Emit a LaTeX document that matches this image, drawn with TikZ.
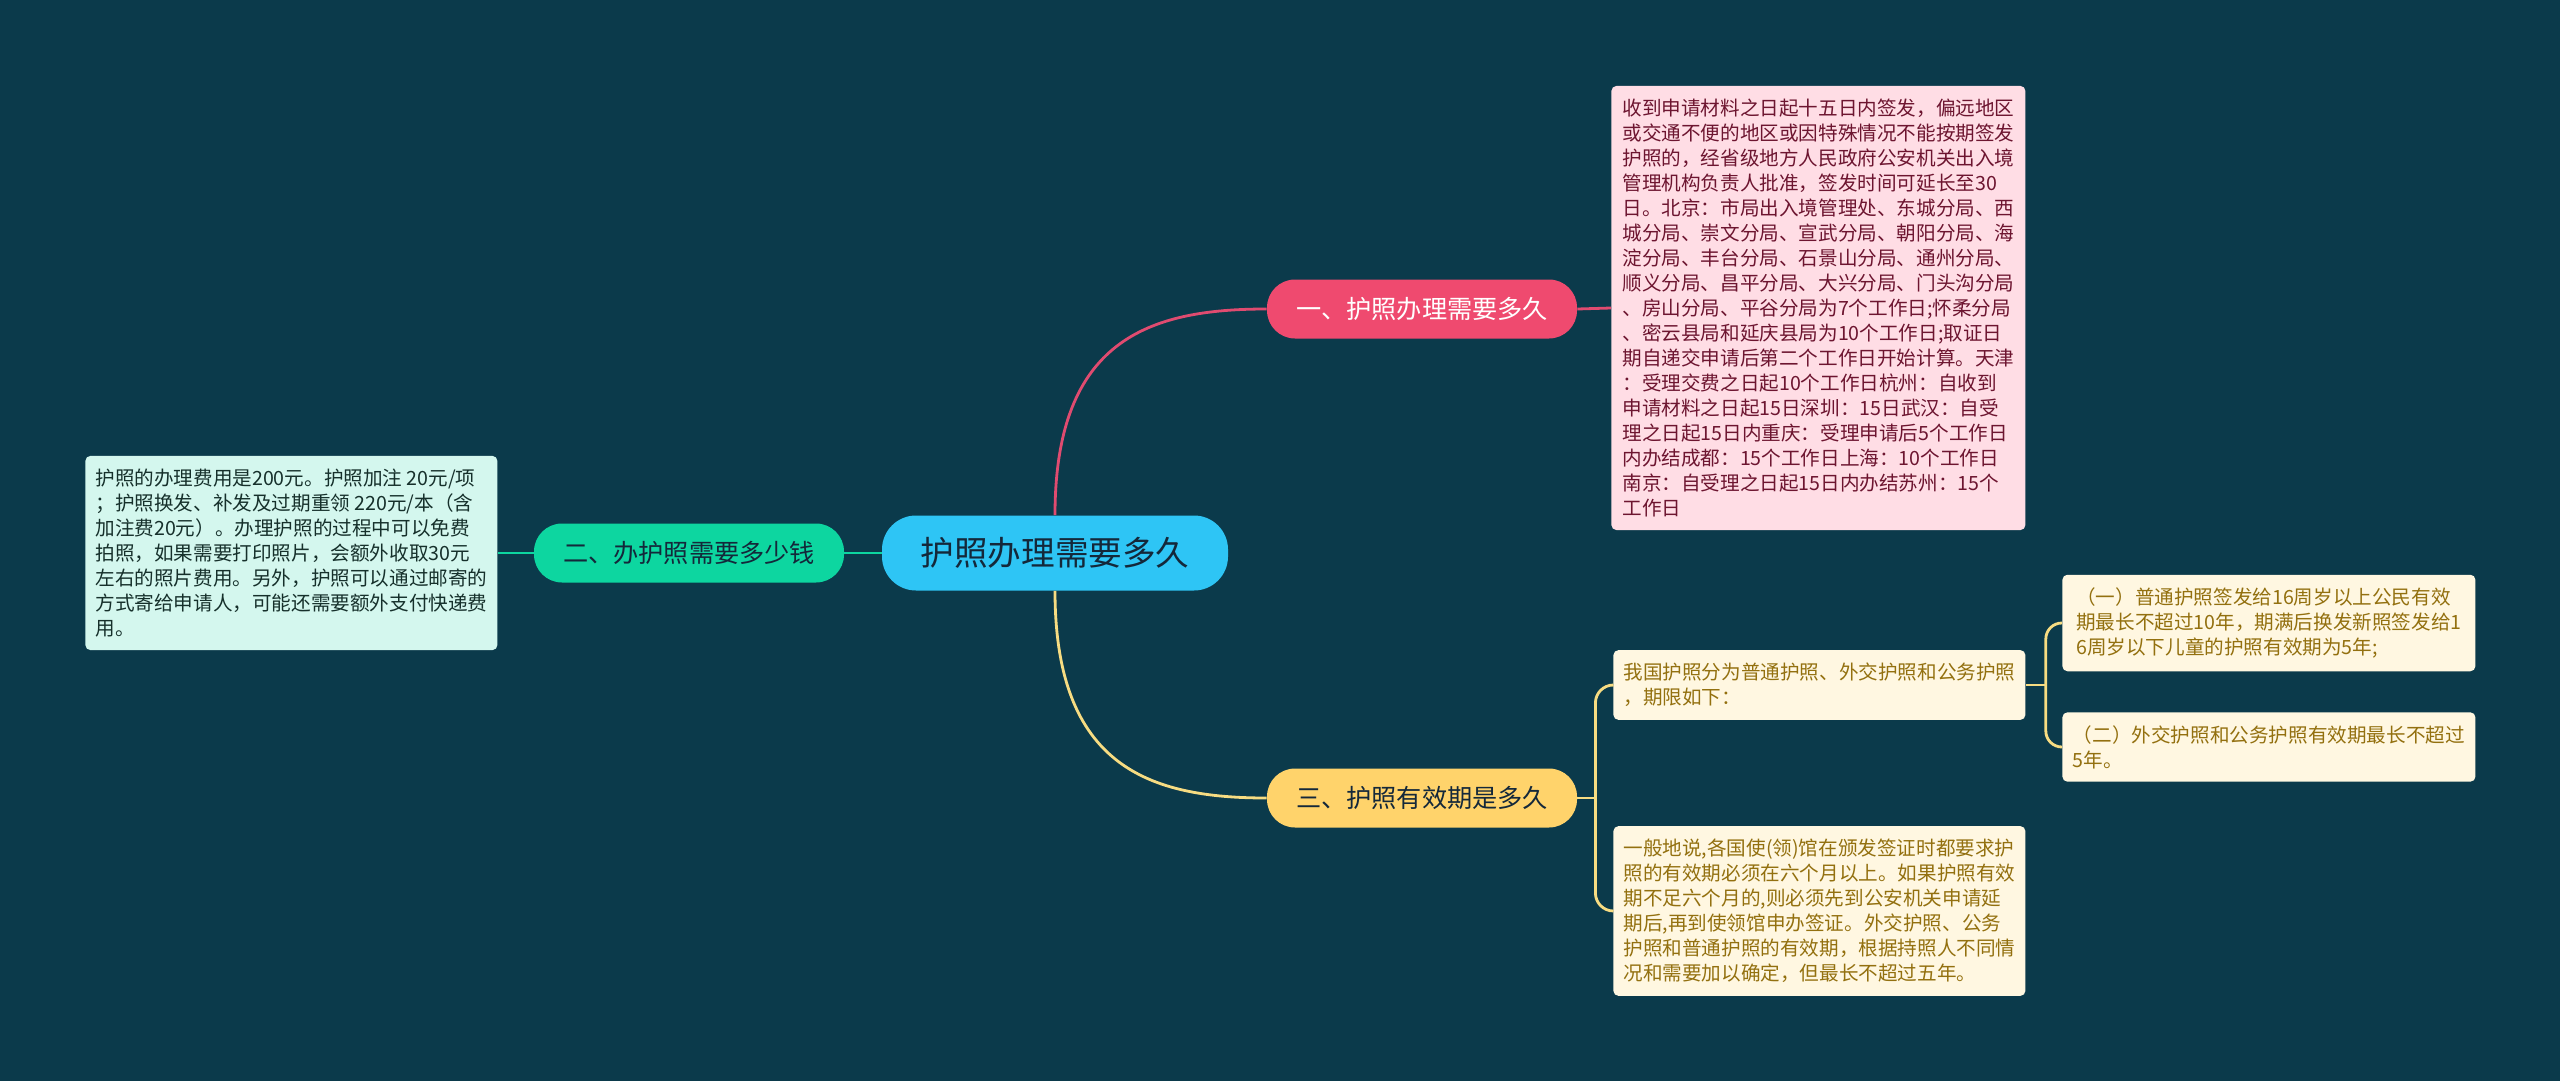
\documentclass[tikz,border=0pt]{standalone}
\usepackage{fontspec}
\setmainfont{Noto Sans CJK SC}
\usetikzlibrary{positioning}

\definecolor{bgcol}{HTML}{0B3A4B}
\definecolor{rootcol}{HTML}{2EC5F5}
\definecolor{darktext}{HTML}{14283A}
\definecolor{pinkcol}{HTML}{EF4A6F}
\definecolor{pinkline}{HTML}{E04B70}
\definecolor{pinknote}{HTML}{FFDDE5}
\definecolor{pinktext}{HTML}{6D1530}
\definecolor{greencol}{HTML}{0DD6A0}
\definecolor{greennote}{HTML}{D4F7EE}
\definecolor{greentext}{HTML}{16302B}
\definecolor{yellowcol}{HTML}{FFD36B}
\definecolor{yellowline}{HTML}{F7DC82}
\definecolor{yellownote}{HTML}{FFF7E1}
\definecolor{yellowtext}{HTML}{93700F}

\begin{document}
\begin{tikzpicture}[
    x=0.5pt, y=-0.5pt,
    root/.style={fill=rootcol, text=darktext, rounded corners=17pt, minimum width=173pt, minimum height=37.5pt, font=\fontsize{16.8}{20}\selectfont},
    topic/.style={rounded corners=14pt, minimum width=155pt, minimum height=29.5pt, font=\fontsize{12.6}{15}\selectfont},
    note/.style={anchor=west, rounded corners=2.5pt, align=left, inner xsep=5pt, inner ysep=6.5pt, font=\fontsize{9.8}{12.5}\selectfont},
    link/.style={line width=1.4pt},
]
\fill[bgcol] (0,0) rectangle (2560,1081);

% main nodes
\node[root] (root) at (1055,553) {护照办理需要多久};
\node[topic, fill=pinkcol, text=white] (b1) at (1422,309) {一、护照办理需要多久};
\node[topic, fill=greencol, text=darktext] (b2) at (689,553) {二、办护照需要多少钱};
\node[topic, fill=yellowcol, text=darktext] (b3) at (1422,798) {三、护照有效期是多久};

% notes
\node[note, fill=pinknote, text=pinktext, minimum width=207pt] (p1) at (1611,308) {收到申请材料之日起十五日内签发，偏远地区\\或交通不便的地区或因特殊情况不能按期签发\\护照的，经省级地方人民政府公安机关出入境\\管理机构负责人批准，签发时间可延长至30\\日。北京：市局出入境管理处、东城分局、西\\城分局、崇文分局、宣武分局、朝阳分局、海\\淀分局、丰台分局、石景山分局、通州分局、\\顺义分局、昌平分局、大兴分局、门头沟分局\\、房山分局、平谷分局为7个工作日;怀柔分局\\、密云县局和延庆县局为10个工作日;取证日\\期自递交申请后第二个工作日开始计算。天津\\：受理交费之日起10个工作日杭州：自收到\\申请材料之日起15日深圳：15日武汉：自受\\理之日起15日内重庆：受理申请后5个工作日\\内办结成都：15个工作日上海：10个工作日\\南京：自受理之日起15日内办结苏州：15个\\工作日};
\node[note, fill=greennote, text=greentext, minimum width=205pt] (g1) at (85,553) {护照的办理费用是200元。护照加注~20元/项\\；护照换发、补发及过期重领~220元/本（含\\加注费20元）。办理护照的过程中可以免费\\拍照，如果需要打印照片，会额外收取30元\\左右的照片费用。另外，护照可以通过邮寄的\\方式寄给申请人，可能还需要额外支付快递费\\用。};
\node[note, fill=yellownote, text=yellowtext, minimum width=206pt] (y1) at (1613,685) {我国护照分为普通护照、外交护照和公务护照\\，期限如下：};
\node[note, fill=yellownote, text=yellowtext, minimum width=206.5pt] (y1a) at (2062,623) {（一）普通护照签发给16周岁以上公民有效\\期最长不超过10年，期满后换发新照签发给1\\6周岁以下儿童的护照有效期为5年;};
\node[note, fill=yellownote, text=yellowtext, minimum width=206.5pt] (y1b) at (2062,747) {（二）外交护照和公务护照有效期最长不超过\\5年。};
\node[note, fill=yellownote, text=yellowtext, minimum width=206pt] (y2) at (1613,911) {一般地说,各国使(领)馆在颁发签证时都要求护\\照的有效期必须在六个月以上。如果护照有效\\期不足六个月的,则必须先到公安机关申请延\\期后,再到使领馆申办签证。外交护照、公务\\护照和普通护照的有效期，根据持照人不同情\\况和需要加以确定，但最长不超过五年。};

% connectors
\draw[link, pinkline] (root.north) .. controls +(0,-176) and +(-117,0) .. (b1.west);
\draw[link, yellowline] (root.south) .. controls +(0,176) and +(-117,0) .. (b3.west);
\draw[link, greencol] (root.west) -- (b2.east);
\draw[link, greencol] (b2.west) -- (g1.east);
\draw[link, pinkline] (b1.east) -- (p1.west);
\draw[link, yellowline] (b3.east) -- ++(18,0) coordinate (f3);
\draw[link, yellowline, rounded corners=9pt] (f3) |- (y1.west);
\draw[link, yellowline, rounded corners=9pt] (f3) |- (y2.west);
\draw[link, yellowline] (y1.east) -- ++(20,0) coordinate (f4);
\draw[link, yellowline, rounded corners=8pt] (f4) |- (y1a.west);
\draw[link, yellowline, rounded corners=8pt] (f4) |- (y1b.west);
\end{tikzpicture}
\end{document}
